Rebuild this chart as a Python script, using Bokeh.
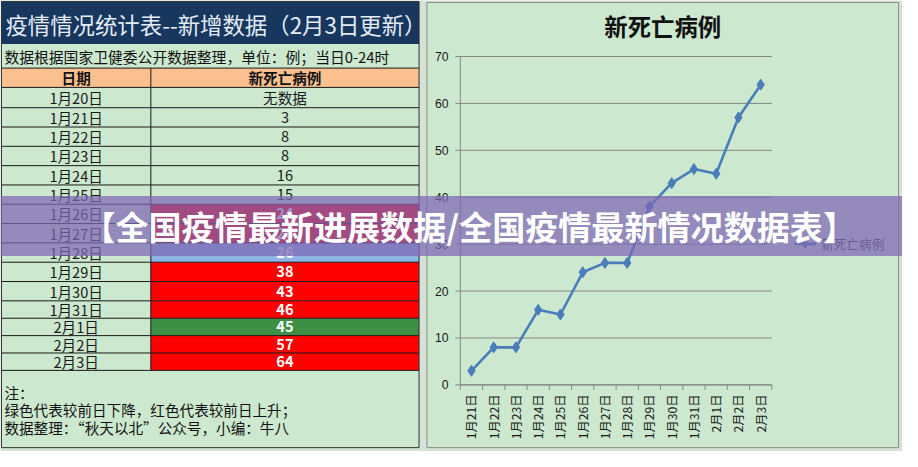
import math
from bokeh.plotting import figure
from bokeh.models import Range1d, ColumnDataSource
from bokeh.core.properties import value
from bokeh.embed import file_html
from bokeh.resources import INLINE

# ---------------- data ----------------
title_text = "疫情情况统计表--新增数据（2月3日更新）"
subtitle_text = "数据根据国家卫健委公开数据整理，单位：例；当日0-24时"
col_headers = ["日期", "新死亡病例"]
dates = ["1月20日", "1月21日", "1月22日", "1月23日", "1月24日", "1月25日", "1月26日",
         "1月27日", "1月28日", "1月29日", "1月30日", "1月31日", "2月1日", "2月2日", "2月3日"]
new_deaths = [None, 3, 8, 8, 16, 15, 24, 26, 26, 38, 43, 46, 45, 57, 64]
missing_label = "无数据"
highlight_from = "1月26日"
notes = ["注：", "绿色代表较前日下降，红色代表较前日上升；", "数据整理：“秋天以北”公众号，小编：牛八"]
chart_title = "新死亡病例"
series_name = "新死亡病例"
y_ticks = [0, 10, 20, 30, 40, 50, 60, 70]
banner_text = "【全国疫情最新进展数据/全国疫情最新情况数据表】"

# ---------------- geometry / style (reference pixel space) ----------------
W_REF, H_REF = 918, 467
PW, PH = 902, 451
FS = (PW / W_REF + PH / H_REF) / 2


def fpx(ref):
    return value(f"{ref * FS:.1f}px")


CJK = value("Noto Sans CJK SC")
LAT = value("Liberation Sans")

PAGE_BG = "#D5E2D6"
CELL = "#CCE8CF"
NAVY = "#17375E"
PEACH = "#FAC090"
UP = "#FF0000"
DOWN = "#3D8F45"
SAME = "#8DB4E2"
LINE_BLUE = "#4A7EBB"
GRAY = "#868686"
BANNER = "#7E66B4"

TL, TM, TR = 1, 153, 426
ROW_EDGES = [90, 111, 131, 151, 171, 191, 211, 231, 251, 271, 291, 311, 329, 347, 365, 383]
NOTE_BOTTOM = 463
BOX = (434, 914, 2, 463)          # chart box: left, right, top, bottom
FRAME = (468, 785, 58, 398)       # chart plot area: left, right, top, bottom
BAN = (202.5, 264.5)              # banner strip top/bottom

chart_dates = dates[1:]
chart_vals = new_deaths[1:]
m = len(chart_dates)
ymax = max(y_ticks)

# chart scales mapped onto the plot-area rectangle of the whole canvas
kx = (FRAME[1] - FRAME[0]) / m
ky = (FRAME[3] - FRAME[2]) / ymax
cx = Range1d(start=(0 - FRAME[0]) / kx, end=(W_REF - FRAME[0]) / kx)
cy = Range1d(start=-(H_REF - FRAME[3]) / ky, end=FRAME[3] / ky)

p = figure(width=PW, height=PH, x_range=Range1d(0, W_REF), y_range=Range1d(H_REF, 0),
           output_backend="svg", toolbar_location=None,
           x_axis_location=None, y_axis_location=None,
           min_border=0, min_border_left=0, min_border_right=0, min_border_top=0, min_border_bottom=0,
           outline_line_color=None, background_fill_color=PAGE_BG, border_fill_color=PAGE_BG)
p.grid.visible = False
p.extra_x_ranges = {"cx": cx}
p.extra_y_ranges = {"cy": cy}

# ---------------- table ----------------
p.quad(left=[TL], right=[TR], top=[1], bottom=[45], fill_color=NAVY, line_color=None)
p.quad(left=[TL], right=[TR], top=[45], bottom=[70], fill_color=CELL, line_color=None)
p.quad(left=[TL, TM], right=[TM, TR], top=[70, 70], bottom=[90, 90], fill_color=PEACH, line_color=None)

start = dates.index(highlight_from)
c2, vals_txt, txt_col, txt_style = [], [], [], []
for i, v in enumerate(new_deaths):
    prev = new_deaths[i - 1] if i > 0 else None
    if i >= start and v is not None and prev is not None:
        c = UP if v > prev else (DOWN if v < prev else SAME)
        txt_col.append("#FFFFFF")
        txt_style.append("bold")
    else:
        c = CELL
        txt_col.append("#1A1A1A")
        txt_style.append("normal")
    c2.append(c)
    vals_txt.append(missing_label if v is None else str(v))

tops = ROW_EDGES[:-1]
bots = ROW_EDGES[1:]
mids = [(a + b) / 2 for a, b in zip(tops, bots)]
n = len(dates)
p.quad(left=[TL] * n, right=[TM] * n, top=tops, bottom=bots, fill_color=CELL, line_color=None)
p.quad(left=[TM] * n, right=[TR] * n, top=tops, bottom=bots, fill_color=c2, line_color=None)
p.quad(left=[TL], right=[TR], top=[ROW_EDGES[-1]], bottom=[NOTE_BOTTOM], fill_color=CELL, line_color=None)

hy = [70, 90] + ROW_EDGES[1:]
p.segment(x0=[TL] * len(hy), x1=[TR] * len(hy), y0=hy, y1=hy, line_color="#1A1A1A", line_width=1)
p.segment(x0=[TM], x1=[TM], y0=[70], y1=[ROW_EDGES[-1]], line_color="#1A1A1A", line_width=1)
p.quad(left=[TL], right=[TR], top=[1], bottom=[NOTE_BOTTOM], fill_color=None,
       line_color="#333333", line_width=1)

p.text(x=[5], y=[24], text=[title_text], text_font=CJK, text_font_size=fpx(23),
       text_color="#E4ECF6", text_align="left", text_baseline="middle")
p.text(x=[4], y=[58], text=[subtitle_text], text_font=CJK, text_font_size=fpx(15.2),
       text_color="#111111", text_align="left", text_baseline="middle")
p.text(x=[(TL + TM) / 2, (TM + TR) / 2], y=[80, 80], text=col_headers, text_font=CJK,
       text_font_size=fpx(15), text_font_style="bold", text_color="#111111",
       text_align="center", text_baseline="middle")
p.text(x=[(TL + TM) / 2] * n, y=mids, text=dates, text_font=CJK, text_font_size=fpx(15),
       text_color="#1A1A1A", text_align="center", text_baseline="middle")
src = ColumnDataSource(dict(x=[(TM + TR) / 2] * n, y=mids, t=vals_txt, c=txt_col, s=txt_style))
p.text(x="x", y="y", text="t", text_color="c", text_font_style="s", source=src, text_font=CJK,
       text_font_size=fpx(15), text_align="center", text_baseline="middle")
p.text(x=[4, 4, 4], y=[406, 424, 442], text=notes, text_font=CJK, text_font_size=fpx(15),
       text_color="#111111", text_align="left", text_baseline="middle")

# ---------------- chart box ----------------
p.quad(left=[BOX[0]], right=[BOX[1]], top=[BOX[2]], bottom=[BOX[3]], fill_color=CELL,
       line_color="#8C8C8C", line_width=1)
p.text(x=[(BOX[0] + BOX[1]) / 2], y=[26], text=[chart_title], text_font=CJK,
       text_font_size=fpx(24), text_font_style="bold", text_color="#111111",
       text_align="center", text_baseline="middle")

# horizontal grid lines at the y ticks
p.segment(x0=[0] * len(y_ticks), x1=[m] * len(y_ticks), y0=y_ticks, y1=y_ticks,
          x_range_name="cx", y_range_name="cy", line_color=GRAY, line_width=1)
# y axis line + ticks + labels
p.segment(x0=[0], x1=[0], y0=[0], y1=[ymax], x_range_name="cx", y_range_name="cy",
          line_color=GRAY, line_width=1)
p.segment(x0=[FRAME[0] - 5] * len(y_ticks), x1=[FRAME[0]] * len(y_ticks), y0=y_ticks, y1=y_ticks,
          y_range_name="cy", line_color=GRAY, line_width=1)
p.text(x=[FRAME[0] - 12] * len(y_ticks), y=y_ticks, text=[str(t) for t in y_ticks],
       y_range_name="cy", text_font=LAT, text_font_size=fpx(12.5), text_color="#1A1A1A",
       text_align="right", text_baseline="middle")
# x axis line + boundary ticks + vertical labels
bounds = list(range(m + 1))
p.segment(x0=bounds, x1=bounds, y0=[FRAME[3]] * (m + 1), y1=[FRAME[3] + 5] * (m + 1),
          x_range_name="cx", line_color=GRAY, line_width=1)
p.segment(x0=[0], x1=[m], y0=[0], y1=[0], x_range_name="cx", y_range_name="cy",
          line_color=GRAY, line_width=1)
xs = [i + 0.5 for i in range(m)]
p.text(x=xs, y=[FRAME[3] + 10] * m, text=chart_dates, x_range_name="cx",
       angle=math.pi / 2, text_font=CJK, text_font_size=fpx(12.5), text_color="#1A1A1A",
       text_align="right", text_baseline="middle")

# series
p.line(xs, chart_vals, x_range_name="cx", y_range_name="cy", line_color=LINE_BLUE, line_width=2.6)
p.scatter(xs, chart_vals, x_range_name="cx", y_range_name="cy", marker="diamond", size=11,
          fill_color=LINE_BLUE, line_color=LINE_BLUE)

# legend
LEG_Y = 252
p.segment(x0=[808], x1=[830], y0=[LEG_Y], y1=[LEG_Y], line_color=LINE_BLUE, line_width=2.6)
p.scatter(x=[819], y=[LEG_Y], marker="diamond", size=9, fill_color=LINE_BLUE, line_color=LINE_BLUE)
p.text(x=[835], y=[LEG_Y], text=[series_name], text_font=CJK, text_font_size=fpx(13),
       text_color="#404040", text_align="left", text_baseline="middle")

# ---------------- banner overlay ----------------
p.quad(left=[0], right=[W_REF], top=[BAN[0]], bottom=[BAN[1]], fill_color=BANNER,
       fill_alpha=0.72, line_color=None)
p.text(x=[477], y=[(BAN[0] + BAN[1]) / 2], text=[banner_text], text_font=CJK,
       text_font_size=fpx(34), text_font_style="bold", text_color="#FFFFFF",
       text_align="center", text_baseline="middle")

open("out.html", "w").write(file_html(p, INLINE))
